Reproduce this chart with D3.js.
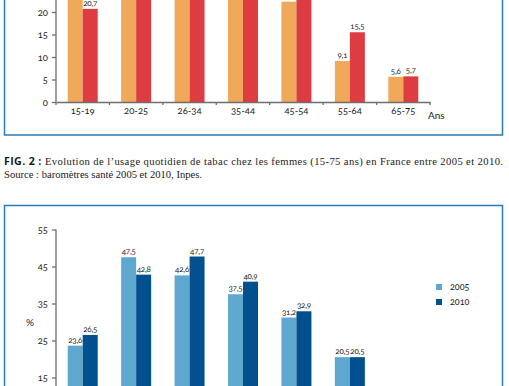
<!DOCTYPE html>
<html lang="fr">
<head>
<meta charset="UTF-8">
<title>Usage quotidien de tabac 2005-2010</title>
<script src="https://d3js.org/d3.v7.min.js"></script>
<style>
  html, body { margin: 0; padding: 0; background: #fff; }
  svg { display: block; }
  .chart text { font-family: Lato, "Open Sans", sans-serif; font-variant-numeric: oldstyle-nums; fill: #1a1a1a; }
  .axis path, .axis line { stroke: #6e6e6e; stroke-width: 1.3; }
  .caption { font-family: "Liberation Serif", "DejaVu Serif", serif; font-size: 10.6px; fill: #1a1a1a; }
  .caption .fig { font-family: "Open Sans", sans-serif; font-weight: bold; }
</style>
</head>
<body>
<div id="fig"></div>
<script>
// Data
const ageGroups = ["15-19", "20-25", "26-34", "35-44", "45-54", "55-64", "65-75"];
const years = ["2005", "2010"];

// upper chart (femmes), values above the crop are estimates
const haut2005 = [24.2, 32.2, 30.1, 28.5, 22.3, 9.1, 5.6];
const haut2010 = [20.7, 33.2, 31.0, 27.7, 25.6, 15.5, 5.7];
const hautTicks = [0, 5, 10, 15, 20, 25];

// lower chart, last group is below the crop (estimate)
const bas2005 = [23.6, 47.5, 42.6, 37.5, 31.2, 20.5, 9.0];
const bas2010 = [26.5, 42.8, 47.7, 40.9, 32.9, 20.5, 8.6];
const basTicks = [5, 15, 25, 35, 45, 55];

const W = 509, H = 386;
const svg = d3.select("#fig").append("svg")
    .attr("width", W)
    .attr("height", H);

const fmt = v => v.toFixed(1).replace(".", ",");

// shared x layout
const x0 = d3.scaleBand().domain(ageGroups).range([56, 430]).padding(0);
const x1 = d3.scaleBand().domain(years).range([0, 30]);
const off = (x0.bandwidth() - 30) / 2;

function drawChart(g, y, v2005, v2010, ticks, colors) {
    const rows = ageGroups.map((a, i) => ({age: a, vals: [
        {year: "2005", v: v2005[i]}, {year: "2010", v: v2010[i]}]}));

    const grp = g.selectAll(".grp").data(rows).join("g")
        .attr("transform", d => `translate(${x0(d.age) + off},0)`);

    grp.selectAll("rect").data(d => d.vals).join("rect")
        .attr("x", d => x1(d.year))
        .attr("width", x1.bandwidth())
        .attr("y", d => y(d.v))
        .attr("height", d => y(0) - y(d.v))
        .attr("fill", d => colors[d.year]);

    grp.selectAll("text.val").data(d => d.vals).join("text")
        .attr("class", "val")
        .attr("x", d => x1(d.year) + x1.bandwidth() / 2)
        .attr("y", d => y(d.v) - 3)
        .attr("text-anchor", "middle")
        .style("font-size", "8px")
        .style("letter-spacing", "-0.2px")
        .text(d => fmt(d.v));

    const yAxis = g.append("g").attr("class", "axis")
        .attr("transform", "translate(56,0)")
        .call(d3.axisLeft(y).tickValues(ticks).tickSize(4).tickSizeOuter(0));
    yAxis.selectAll("text").style("font-size", "9.5px").attr("dx", "-1");
    return yAxis;
}

// ---- upper chart
const yHaut = d3.scaleLinear().domain([0, 20]).range([102, 12]);
const gHaut = svg.append("g").attr("class", "chart");
drawChart(gHaut, yHaut, haut2005, haut2010, hautTicks,
    {"2005": "#f0a95a", "2010": "#dd3c40"});
gHaut.select(".axis path").attr("d", `M0,${yHaut(30)}V${yHaut(0)}`);

const xAxis = gHaut.append("g").attr("class", "axis")
    .attr("transform", `translate(0,${yHaut(0)})`)
    .call(d3.axisBottom(x0).tickSize(0).tickSizeOuter(0));
xAxis.selectAll("text").style("font-size", "9.5px").attr("dy", "0.95em");
xAxis.selectAll(".edge").data(ageGroups.concat(["end"])).join("line")
    .attr("class", "edge")
    .attr("x1", (d, i) => i < ageGroups.length ? x0(d) : x0.range()[1])
    .attr("x2", (d, i) => i < ageGroups.length ? x0(d) : x0.range()[1])
    .attr("y1", 0).attr("y2", 3);
gHaut.append("text")
    .attr("x", 428).attr("y", 119)
    .style("font-size", "10px")
    .text("Ans");

svg.append("path")
    .attr("d", "M4.5,-5V135H502.5V-5")
    .attr("fill", "none")
    .attr("stroke", "#2a7bb8")
    .attr("stroke-width", 1.5);

// ---- caption
const cap = svg.append("text").attr("class", "caption")
    .attr("x", 4).attr("y", 165)
    .attr("textLength", 499).attr("lengthAdjust", "spacing");
cap.append("tspan").attr("class", "fig").text("FIG. 2 : ");
cap.append("tspan").text("Evolution de l’usage quotidien de tabac chez les femmes (15-75 ans) en France entre 2005 et 2010.");
svg.append("text").attr("class", "caption")
    .attr("x", 4).attr("y", 177.5)
    .text("Source : baromètres santé 2005 et 2010, Inpes.");

// ---- lower chart
const yBas = d3.scaleLinear().domain([0, 55]).range([433, 229.5]);
const gBas = svg.append("g").attr("class", "chart");
drawChart(gBas, yBas, bas2005, bas2010, basTicks,
    {"2005": "#5ea8d0", "2010": "#02508d"});
gBas.select(".axis path").attr("d", `M0,${yBas(55)}V${yBas(0)}`);

gBas.append("text")
    .attr("x", 30).attr("y", 322)
    .attr("dy", "0.35em")
    .attr("text-anchor", "middle")
    .style("font-size", "10px")
    .text("%");

const legend = gBas.selectAll(".leg").data(years).join("g")
    .attr("class", "leg")
    .attr("transform", (d, i) => `translate(436,${284 + i * 15})`);
legend.append("rect")
    .attr("width", 6).attr("height", 6)
    .attr("fill", d => d === "2005" ? "#5ea8d0" : "#02508d");
legend.append("text")
    .attr("x", 14).attr("y", 3)
    .attr("dy", "0.35em")
    .style("font-size", "9px")
    .text(d => d);

svg.append("path")
    .attr("d", "M4.5,400V205.5H502.5V400")
    .attr("fill", "none")
    .attr("stroke", "#2a7bb8")
    .attr("stroke-width", 1.5);
</script>
</body>
</html>
